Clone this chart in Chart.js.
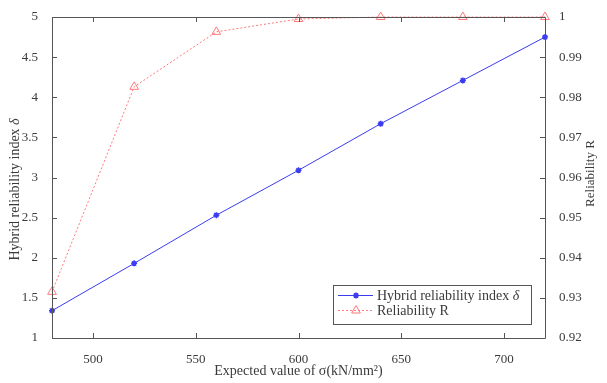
<!DOCTYPE html>
<html>
<head>
    <title>Hybrid reliability index</title>
    <script src="https://cdn.jsdelivr.net/npm/chart.js@4.4.1/dist/chart.umd.min.js"></script>
    <style>
        body { margin: 0; background: white; }
        #wrap { width: 607px; height: 383px; }
    </style>
</head>
<body>
    <div id="wrap"><canvas id="chart" width="607" height="383"></canvas></div>
    <script>
        // data
        const sigmaValues = [480, 520, 560, 600, 640, 680, 720];
        const deltaValues = [1.34, 1.93, 2.53, 3.09, 3.67, 4.21, 4.75];
        const reliabilityValues = [0.9315, 0.9826, 0.9963, 0.9995, 1.0, 1.0, 1.0];
        const xTicks = [500, 550, 600, 650, 700];
        const leftTicks = [1, 1.5, 2, 2.5, 3, 3.5, 4, 4.5, 5];
        const rightTicks = [0.92, 0.93, 0.94, 0.95, 0.96, 0.97, 0.98, 0.99, 1];

        const serif = "'Liberation Serif', 'DejaVu Serif', serif";
        const textColor = '#3a3a3a';
        const axisColor = '#555555';
        const blue = '#3b3bf0';
        const red = '#ff7a7a';

        const toPts = ys => sigmaValues.map((x, i) => ({ x: x, y: ys[i] }));

        // text with an italic tail, used for the delta symbol
        function mixedText(c, plain, ital, y, size) {
            c.font = size + 'px ' + serif;
            const w1 = c.measureText(plain).width;
            c.font = 'italic ' + size + 'px ' + serif;
            const w2 = c.measureText(ital).width;
            return { w: w1 + w2, draw(x0) {
                c.font = size + 'px ' + serif;
                c.fillText(plain, x0, y);
                c.font = 'italic ' + size + 'px ' + serif;
                c.fillText(ital, x0 + w1, y);
            } };
        }

        // box around the axes plus inward ticks, MATLAB style
        const boxPlugin = {
            id: 'boxPlugin',
            afterDatasetsDraw(chart) {
                const c = chart.ctx;
                const a = chart.chartArea;
                const sx = chart.scales.x, yl = chart.scales.yL, yr = chart.scales.yR;
                c.save();
                c.strokeStyle = axisColor;
                c.lineWidth = 1;
                c.beginPath();
                c.rect(Math.round(a.left) + 0.5, Math.round(a.top) + 0.5, Math.round(a.right - a.left), Math.round(a.bottom - a.top));
                xTicks.forEach(v => {
                    const p = Math.round(sx.getPixelForValue(v)) + 0.5;
                    c.moveTo(p, a.bottom); c.lineTo(p, a.bottom - 5);
                    c.moveTo(p, a.top); c.lineTo(p, a.top + 5);
                });
                leftTicks.forEach(v => {
                    const p = Math.round(yl.getPixelForValue(v)) + 0.5;
                    c.moveTo(a.left, p); c.lineTo(a.left + 5, p);
                });
                rightTicks.forEach(v => {
                    const p = Math.round(yr.getPixelForValue(v)) + 0.5;
                    c.moveTo(a.right, p); c.lineTo(a.right - 5, p);
                });
                c.stroke();
                c.restore();
            },
            afterDraw(chart) {
                const c = chart.ctx;
                const a = chart.chartArea;
                const midY = (a.top + a.bottom) / 2;
                c.save();
                c.fillStyle = textColor;
                c.textBaseline = 'middle';

                // y axis titles, both reading bottom to top
                c.save();
                c.translate(15, midY + 12);
                c.rotate(-Math.PI / 2);
                const lt = mixedText(c, 'Hybrid reliability index ', '\u03b4', 0, 14);
                lt.draw(-lt.w / 2);
                c.restore();

                c.save();
                c.translate(591, midY - 4);
                c.rotate(-Math.PI / 2);
                c.font = '13px ' + serif;
                c.textAlign = 'center';
                c.fillText('Reliability R', 0, 0);
                c.restore();

                // legend box in the lower right of the axes
                const lx = 333, ly = 285, lw = 198, lh = 39;
                c.fillStyle = 'white';
                c.fillRect(lx, ly, lw, lh);
                c.strokeStyle = axisColor;
                c.lineWidth = 1;
                c.strokeRect(lx + 0.5, ly + 0.5, lw, lh);
                const rows = [
                    { ds: chart.data.datasets[0], y: ly + 10.5 },
                    { ds: chart.data.datasets[1], y: ly + 25.5 }
                ];
                rows.forEach(r => {
                    c.strokeStyle = r.ds.borderColor;
                    c.lineWidth = 1;
                    c.setLineDash(r.ds.borderDash || []);
                    c.beginPath();
                    c.moveTo(lx + 5, r.y);
                    c.lineTo(lx + 40, r.y);
                    c.stroke();
                    c.setLineDash([]);
                    c.fillStyle = r.ds.pointBackgroundColor;
                    c.strokeStyle = r.ds.pointBorderColor;
                    c.lineWidth = r.ds.pointBorderWidth;
                    Chart.helpers.drawPoint(c, {
                        pointStyle: r.ds.pointStyle,
                        radius: r.ds.pointRadius,
                        borderWidth: r.ds.pointBorderWidth,
                        rotation: 0
                    }, lx + 23, r.y);
                });
                c.fillStyle = textColor;
                const l1 = mixedText(c, 'Hybrid reliability index ', '\u03b4', ly + 11, 14);
                l1.draw(lx + 44);
                c.font = '14px ' + serif;
                c.fillText('Reliability R', lx + 44, ly + 26);
                c.restore();
            }
        };

        new Chart(document.getElementById('chart'), {
            type: 'line',
            data: {
                datasets: [
                    {
                        label: 'Hybrid reliability index \u03b4',
                        data: toPts(deltaValues),
                        yAxisID: 'yL',
                        borderColor: blue,
                        backgroundColor: blue,
                        borderWidth: 1,
                        pointStyle: 'star',
                        pointRadius: 3,
                        pointBorderColor: blue,
                        pointBackgroundColor: blue,
                        pointBorderWidth: 1.5,
                        clip: false,
                        tension: 0
                    },
                    {
                        label: 'Reliability R',
                        data: toPts(reliabilityValues),
                        yAxisID: 'yR',
                        borderColor: red,
                        backgroundColor: 'rgba(0,0,0,0)',
                        borderWidth: 1,
                        borderDash: [2, 2],
                        pointStyle: 'triangle',
                        pointRadius: 5,
                        pointBorderColor: red,
                        pointBackgroundColor: 'rgba(0,0,0,0)',
                        pointBorderWidth: 1,
                        clip: false,
                        tension: 0
                    }
                ]
            },
            options: {
                responsive: false,
                animation: false,
                devicePixelRatio: 1,
                layout: { padding: { top: 17, left: 0, right: 0, bottom: 0 } },
                plugins: {
                    legend: { display: false },
                    tooltip: { enabled: false }
                },
                scales: {
                    x: {
                        type: 'linear',
                        min: 480,
                        max: 720,
                        afterBuildTicks: s => { s.ticks = xTicks.map(v => ({ value: v })); },
                        afterFit: s => { s.height = 45; },
                        grid: { display: false },
                        border: { display: false },
                        ticks: {
                            color: textColor,
                            font: { family: serif, size: 13 },
                            padding: 6,
                            maxRotation: 0
                        },
                        title: {
                            display: true,
                            text: 'Expected value of \u03c3(kN/mm\u00b2)',
                            color: textColor,
                            font: { family: serif, size: 14 },
                            padding: { top: 0, bottom: 3 }
                        }
                    },
                    yL: {
                        type: 'linear',
                        position: 'left',
                        min: 1,
                        max: 5,
                        afterBuildTicks: s => { s.ticks = leftTicks.map(v => ({ value: v })); },
                        afterFit: s => { s.width = 52; },
                        grid: { display: false },
                        border: { display: false },
                        ticks: {
                            color: textColor,
                            font: { family: serif, size: 13 },
                            padding: 6,
                            callback: v => String(v)
                        }
                    },
                    yR: {
                        type: 'linear',
                        position: 'right',
                        min: 0.92,
                        max: 1,
                        afterBuildTicks: s => { s.ticks = rightTicks.map(v => ({ value: v })); },
                        afterFit: s => { s.width = 62; },
                        grid: { display: false },
                        border: { display: false },
                        ticks: {
                            color: textColor,
                            font: { family: serif, size: 13 },
                            padding: 6,
                            callback: v => (v === 1 ? '1' : v.toFixed(2))
                        }
                    }
                }
            },
            plugins: [boxPlugin]
        });
    </script>
</body>
</html>
